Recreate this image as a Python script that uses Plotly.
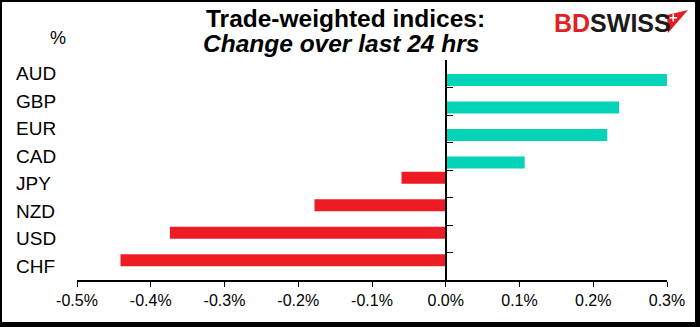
import plotly.graph_objects as go

# ---- data ----
currencies = ["AUD", "GBP", "EUR", "CAD", "JPY", "NZD", "USD", "CHF"]
changes = [0.301, 0.235, 0.219, 0.107, -0.060, -0.178, -0.374, -0.441]  # % change over 24 hrs
x_tickvals = [-0.5, -0.4, -0.3, -0.2, -0.1, 0.0, 0.1, 0.2, 0.3]
x_ticktext = ["-0.5%", "-0.4%", "-0.3%", "-0.2%", "-0.1%", "0.0%", "0.1%", "0.2%", "0.3%"]
title_line1 = "Trade-weighted indices:"
title_line2 = "Change over last 24 hrs"
unit_label = "%"

# ---- styling ----
W, H = 700, 327
L, R, T, B = 77, 33, 60, 47
PW, PH = W - L - R, H - T - B
TEAL = "#03D3B7"
RED = "#ED1C24"
FONT = "Liberation Sans, Arial, sans-serif"
XMIN, XMAX = -0.5, 0.3


def px(xp):
    return (xp - L) / PW


def py(yp):
    return (T + PH - yp) / PH


pos = [(c, v) for c, v in zip(currencies, changes) if v >= 0]
neg = [(c, v) for c, v in zip(currencies, changes) if v < 0]
BW = 0.435

fig = go.Figure()
fig.add_trace(go.Bar(
    y=[c for c, _ in pos], x=[v for _, v in pos], orientation="h",
    marker=dict(color=TEAL, line=dict(width=0)), width=BW, offset=0.01,
    hoverinfo="x+y", showlegend=False))
fig.add_trace(go.Bar(
    y=[c for c, _ in neg], x=[v for _, v in neg], orientation="h",
    marker=dict(color=RED, line=dict(width=0)), width=BW, offset=-BW,
    hoverinfo="x+y", showlegend=False))

fig.update_layout(
    width=W, height=H,
    margin=dict(l=L, r=R, t=T, b=B, pad=0),
    paper_bgcolor="white", plot_bgcolor="white",
    font=dict(family=FONT, color="black"),
    barmode="overlay",
    showlegend=False,
    xaxis=dict(
        range=[XMIN, XMAX], tickvals=x_tickvals, ticktext=x_ticktext,
        showgrid=False, zeroline=False,
        showline=True, linecolor="black", linewidth=1.5,
        ticks="outside", ticklen=5, tickwidth=1.3, tickcolor="black",
        tickfont=dict(size=16, family=FONT, color="black"),
        fixedrange=True,
    ),
    yaxis=dict(
        type="category", categoryorder="array", categoryarray=currencies,
        range=[len(currencies) - 0.5, -0.5],
        anchor="free", position=(0 - XMIN) / (XMAX - XMIN),
        showgrid=False, zeroline=False,
        showline=True, linecolor="black", linewidth=1.5,
        ticks="inside", tickson="boundaries", ticklen=6, tickwidth=1.3, tickcolor="black",
        showticklabels=False,
        fixedrange=True,
    ),
)

annotations = []
# category labels, left aligned like the original
for c in currencies:
    annotations.append(dict(
        x=px(14), xref="paper", xanchor="left",
        y=c, yref="y", yanchor="middle",
        text=c, showarrow=False,
        font=dict(size=19, family=FONT, color="black")))

annotations += [
    dict(x=px(345), y=py(18), xref="paper", yref="paper",
         xanchor="center", yanchor="middle", showarrow=False,
         text="<b>" + title_line1 + "</b>",
         font=dict(size=24.5, family=FONT, color="black")),
    dict(x=px(341), y=py(44), xref="paper", yref="paper",
         xanchor="center", yanchor="middle", showarrow=False,
         text="<b><i>" + title_line2 + "</i></b>",
         font=dict(size=24.5, family=FONT, color="black")),
    dict(x=px(58), y=py(38), xref="paper", yref="paper",
         xanchor="center", yanchor="middle", showarrow=False,
         text=unit_label, font=dict(size=18, family=FONT, color="black")),
    dict(x=px(552), y=py(23), xref="paper", yref="paper",
         xanchor="left", yanchor="middle", showarrow=False,
         text="<b><span style='color:#E31E24'>BD</span><span style='color:#1a1a1a'>SWISS</span></b>",
         font=dict(size=25, family=FONT)),
]
fig.update_layout(annotations=annotations)

# figure frame and logo flag
shapes = [
    dict(type="rect", xref="paper", yref="paper", x0=px(0), x1=px(W), y0=py(0), y1=py(2),
         fillcolor="black", line=dict(width=0), layer="above"),
    dict(type="rect", xref="paper", yref="paper", x0=px(0), x1=px(2), y0=py(0), y1=py(H),
         fillcolor="black", line=dict(width=0), layer="above"),
    dict(type="rect", xref="paper", yref="paper", x0=px(695), x1=px(W), y0=py(0), y1=py(H),
         fillcolor="black", line=dict(width=0), layer="above"),
    dict(type="rect", xref="paper", yref="paper", x0=px(0), x1=px(W), y0=py(322), y1=py(H),
         fillcolor="black", line=dict(width=0), layer="above"),
]


def path(points):
    return "M " + " L ".join(f"{px(a)},{py(b)}" for a, b in points) + " Z"


shapes.append(dict(type="path", xref="paper", yref="paper",
                   path=path([(667, 15), (688, 10), (668, 33)]),
                   fillcolor="#E31E24", line=dict(width=0), layer="above"))
shapes.append(dict(type="path", xref="paper", yref="paper",
                   path=path([(672.5, 14), (674, 14), (674, 17), (677, 17), (677, 18.5), (674, 18.5),
                              (674, 21.5), (672.5, 21.5), (672.5, 18.5), (669.5, 18.5), (669.5, 17), (672.5, 17)]),
                   fillcolor="white", line=dict(width=0), layer="above"))
fig.update_layout(shapes=shapes)

fig.write_html("out.html", config={"displayModeBar": False})
